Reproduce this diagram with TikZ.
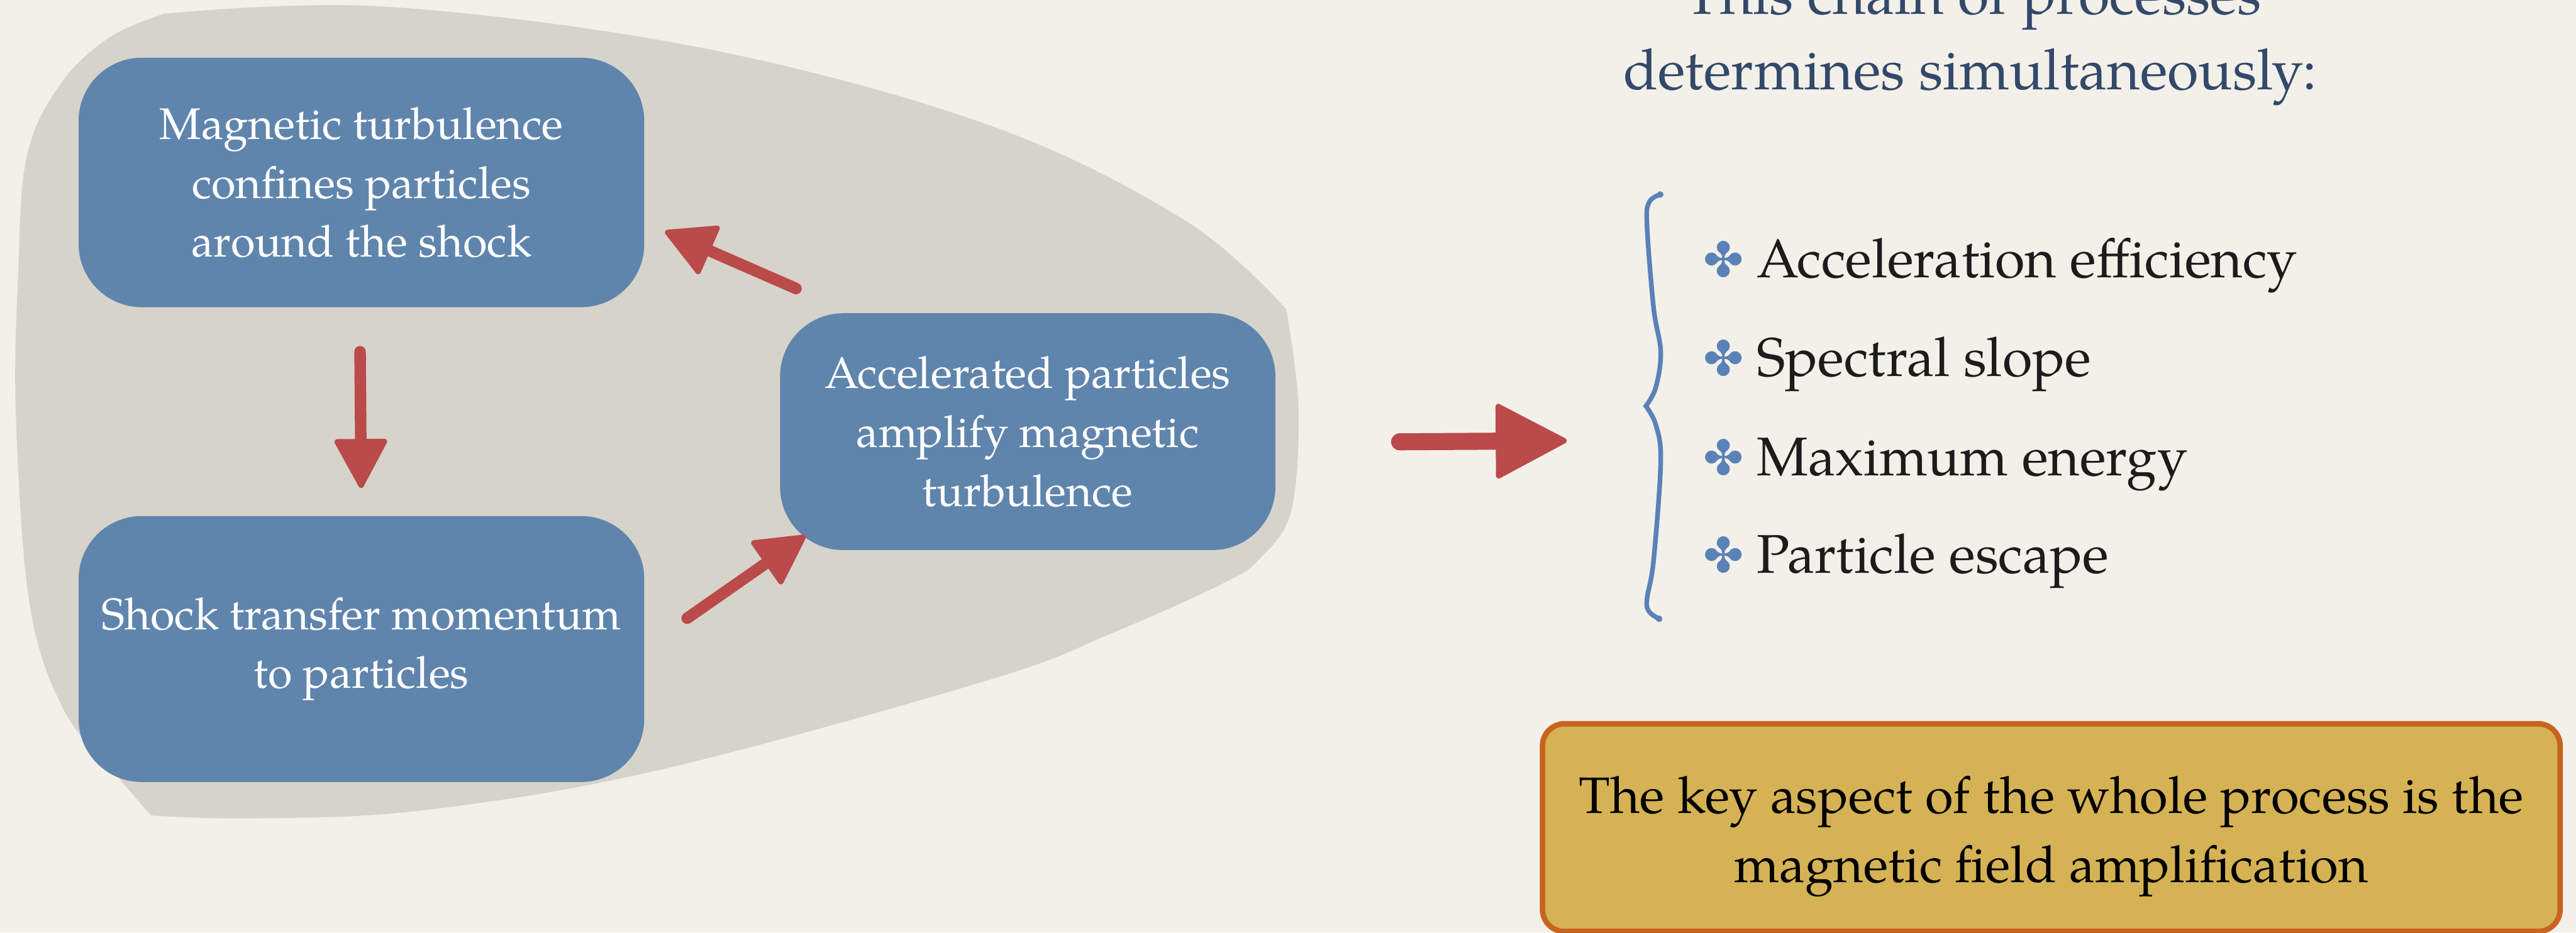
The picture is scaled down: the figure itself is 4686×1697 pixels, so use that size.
\documentclass[tikz,border=0pt]{standalone}
\usepackage{fontspec}
\setmainfont{texgyrepagella}[Extension=.otf,UprightFont=*-regular,BoldFont=*-bold,ItalicFont=*-italic,BoldItalicFont=*-bolditalic]
\newfontfamily\symfont{DejaVu Sans}
\usetikzlibrary{arrows.meta}
\definecolor{bgcol}{HTML}{F3F0EA}
\definecolor{blobcol}{HTML}{D6D3CA}
\definecolor{boxblue}{HTML}{6085AD}
\definecolor{arrowred}{HTML}{BB4A4B}
\definecolor{titlecol}{HTML}{33496A}
\definecolor{accentblue}{HTML}{5A82B8}
\definecolor{goldfill}{HTML}{D5B254}
\definecolor{goldedge}{HTML}{C8641E}
\definecolor{itemcol}{HTML}{1C1C1C}
\tikzset{
  bluebox/.style={fill=boxblue, rounded corners=11.5mm, text=white, align=center,
    font=\fontsize{22.9pt}{30.5pt}\selectfont, inner sep=0pt},
  redarrow/.style={draw=arrowred, line width=2.1mm, line cap=round,
    -{Triangle[round, length=9.5mm, width=10mm, line width=1mm]}},
  bigarrow/.style={draw=arrowred, line width=3.1mm, line cap=round,
    -{Triangle[round, length=13.5mm, width=14mm, line width=1mm]}},
  titletext/.style={text=titlecol, font=\fontsize{29.4pt}{39pt}\selectfont, inner sep=0pt},
  itemtext/.style={text=itemcol, font=\fontsize{28.2pt}{33pt}\selectfont, inner sep=0pt},
  bulletmark/.style={text=accentblue, font=\symfont\fontsize{25pt}{25pt}\selectfont, inner sep=0pt},
  goldbox/.style={fill=goldfill, draw=goldedge, line width=1mm, rounded corners=4mm},
  keytext/.style={text=black, align=center, font=\fontsize{26.5pt}{35.6pt}\selectfont, inner sep=0pt},
}
\begin{document}
\begin{tikzpicture}[x=0.1mm,y=-0.1mm]
\useasboundingbox (0,0) rectangle (4686,1697);
\clip (0,0) rectangle (4686,1697);
\fill[bgcol] (0,0) rectangle (4686,1697);
% grey blob
\fill[blobcol]
  plot[smooth, tension=0.6] coordinates {(299,25) (700,12) (1276,87) (1800,228) (2157,402) (2340,563)}
  -- plot[smooth, tension=0.6] coordinates {(2340,563) (2362,740) (2349,929) (2292,1016) (2224,1062) (2023,1152) (1800,1237) (1200,1401) (765,1475) (459,1489) (275,1484)}
  -- plot[smooth, tension=0.6] coordinates {(275,1484) (207,1405) (115,1290) (54,1100) (29,758) (33,500) (49,283) (112,150) (201,67) (299,25)}
  -- cycle;
% process boxes
\node[bluebox, minimum width=102.9mm, minimum height=45.4mm] (b1) at (657.5,332)
  {Magnetic turbulence\\confines particles\\around the shock};
\node[bluebox, minimum width=102.9mm, minimum height=48.4mm] (b2) at (657.5,1181)
  {Shock transfer momentum\\to particles};
\node[bluebox, minimum width=90.1mm, minimum height=43.1mm] (b3) at (1869.5,785.5)
  {Accelerated particles\\amplify magnetic\\turbulence};
% arrow end points
\coordinate (d1) at (655,640); \coordinate (d2) at (657,888);
\coordinate (u1) at (1250,1125); \coordinate (u2) at (1465,975);
\coordinate (l1) at (1448,525); \coordinate (l2) at (1210,421);
\coordinate (r1) at (2546,804); \coordinate (r2) at (2850,802);
\draw[redarrow] (d1) -- (d2);
\draw[redarrow] (u1) -- (u2);
\draw[redarrow] (l1) -- (l2);
\draw[bigarrow] (r1) -- (r2);
% title
\node[titletext, anchor=base] (t1) at (3590,26) {This chain of processes};
\node[titletext, anchor=base] (t2) at (3584,163) {determines simultaneously:};
% brace
\draw[accentblue, line width=0.85mm, line cap=round]
  plot[smooth, tension=0.6] coordinates {(3020,354) (3000,368) (2996,410) (3008,560) (3021,640) (3012,705) (2994,739)}
  -- plot[smooth, tension=0.6] coordinates {(2994,739) (3012,773) (3021,840) (3008,1020) (2996,1090) (3000,1113) (3018,1126)};
\fill[accentblue] (3020,354) circle (6) (3018,1126) circle (6);
% list
\foreach \y/\t [count=\i] in {505/Acceleration efficiency, 685/Spectral slope, 865/Maximum energy, 1043/Particle escape} {
  \node[bulletmark] (bm\i) at (3135,\y-33) {✤};
  \node[itemtext, anchor=base west] (it\i) at (3195,\y) {\t};
}
% key box
\node[goldbox, minimum width=185.1mm, minimum height=37.8mm] (key) at (3731.5,1506) {};
\node[keytext] (keyt) at (3731.5,1522) {The key aspect of the whole process is the\\magnetic field amplification};
\end{tikzpicture}
\end{document}
